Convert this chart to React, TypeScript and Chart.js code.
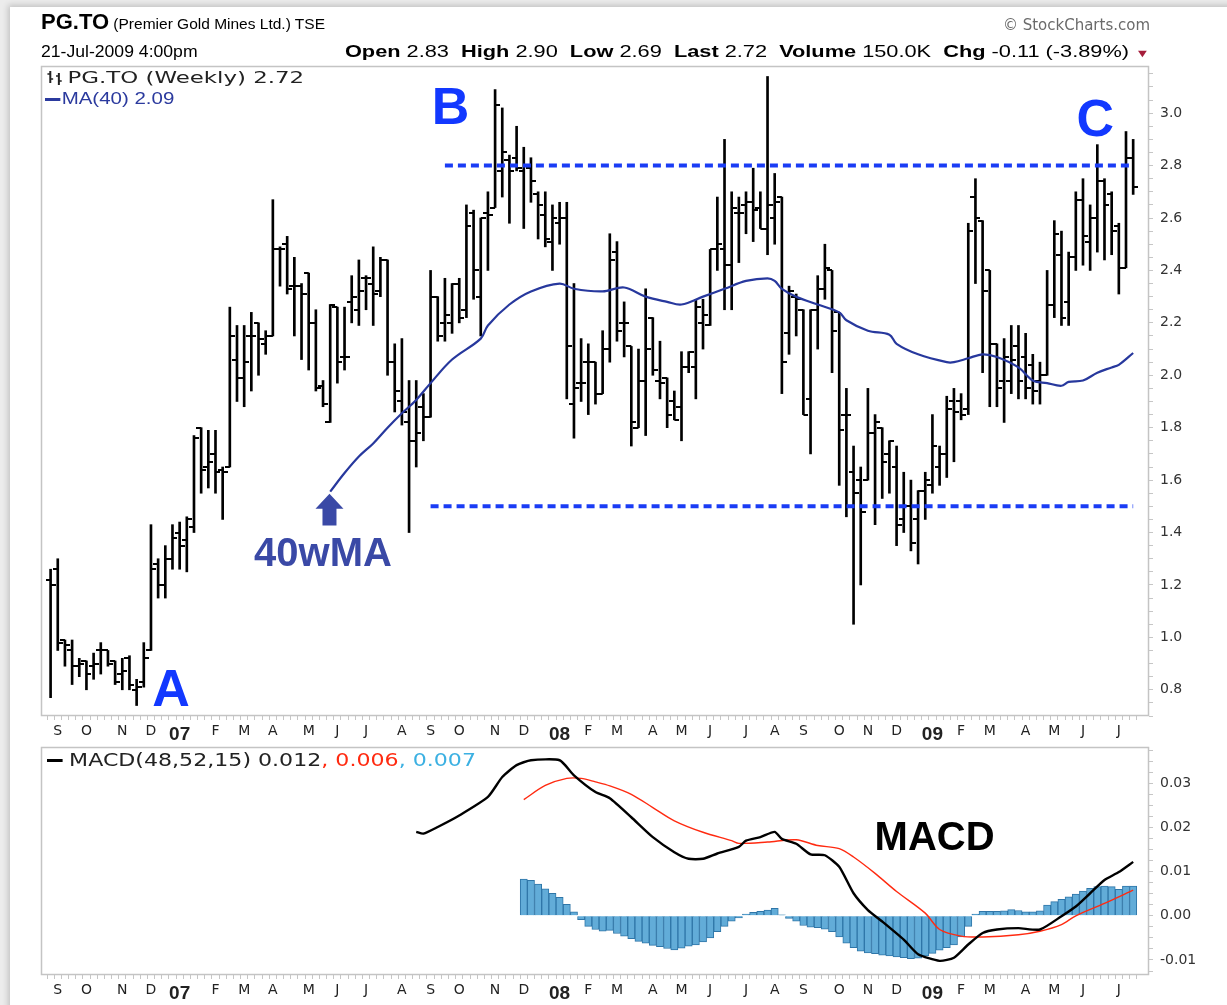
import React, { useEffect, useRef } from "react";
import { Chart, registerables } from "chart.js";

Chart.register(...registerables);

// ---------------- Data (weekly bars, week 0 = week of 28-Aug-2006) ----------------
const opens = [
  1.22, 1.26, 0.99, 0.95, 0.89, 0.91, 0.89, 0.95, 0.95, 0.91, 0.86, 0.92, 0.80, 0.83, 0.95, 1.28, 1.20, 1.30, 1.40, 1.37,
  1.42, 1.80, 1.65, 1.70, 1.64, 1.65, 2.06, 1.99, 2.15, 2.20, 2.12, 2.15, 2.48, 2.50, 2.34, 2.34, 2.39, 2.20, 1.96, 1.82,
  2.26, 2.07, 2.28, 2.25, 2.37, 2.35, 2.32, 2.44, 2.05, 1.90, 1.82, 1.75, 1.88, 1.84, 2.30, 2.20, 2.20, 2.35, 2.25, 2.62,
  2.30, 2.62, 2.64, 2.78, 2.82, 2.83, 2.78, 2.79, 2.69, 2.61, 2.51, 2.58, 2.60, 1.89, 1.97, 2.05, 2.05, 1.93, 2.10, 2.47,
  2.20, 2.11, 1.80, 1.98, 2.22, 1.98, 1.99, 1.90, 1.88, 2.03, 2.03, 2.20, 2.19, 2.48, 2.48, 2.42, 2.62, 2.65, 2.66, 2.64,
  2.56, 2.60, 2.68, 2.16, 2.30, 2.25, 1.91, 2.25, 2.33, 2.40, 2.24, 1.85, 1.63, 1.60, 1.60, 1.78, 1.80, 1.70, 1.65, 1.45,
  1.50, 1.45, 1.56, 1.58, 1.65, 1.70, 1.90, 1.90, 1.87, 2.68, 2.59, 2.40, 2.12, 1.98, 1.98, 2.11, 2.07, 2.04, 1.98, 2.00,
  2.27, 2.46, 2.28, 2.45, 2.67, 2.51, 2.60, 2.74, 2.69, 2.57, 2.41, 2.83,
];
const highs = [
  1.26, 1.30, 0.99, 0.99, 0.92, 0.91, 0.94, 0.98, 0.95, 0.91, 0.92, 0.93, 0.84, 0.98, 1.43, 1.30, 1.35, 1.43, 1.44, 1.46,
  1.77, 1.80, 1.79, 1.79, 1.65, 2.26, 2.19, 2.19, 2.24, 2.20, 2.17, 2.67, 2.49, 2.53, 2.45, 2.35, 2.39, 2.25, 1.98, 2.27,
  2.26, 2.26, 2.38, 2.44, 2.38, 2.49, 2.45, 2.44, 2.12, 2.14, 1.98, 1.98, 1.93, 2.40, 2.30, 2.37, 2.35, 2.37, 2.65, 2.63,
  2.60, 2.70, 3.09, 3.02, 2.84, 2.95, 2.87, 2.83, 2.70, 2.70, 2.65, 2.66, 2.66, 2.35, 2.14, 2.12, 2.05, 2.17, 2.54, 2.51,
  2.28, 2.11, 2.10, 2.33, 2.22, 2.13, 1.99, 1.94, 2.09, 2.09, 2.29, 2.29, 2.48, 2.68, 2.90, 2.70, 2.68, 2.70, 2.79, 2.70,
  3.14, 2.77, 2.68, 2.34, 2.31, 2.25, 2.25, 2.38, 2.50, 2.40, 2.24, 1.95, 1.73, 1.65, 1.95, 1.85, 1.80, 1.75, 1.73, 1.63,
  1.60, 1.56, 1.63, 1.85, 1.73, 1.92, 1.95, 1.93, 2.58, 2.75, 2.59, 2.40, 2.12, 2.14, 2.19, 2.19, 2.16, 2.08, 2.05, 2.40,
  2.59, 2.55, 2.47, 2.70, 2.75, 2.65, 2.88, 2.75, 2.70, 2.58, 2.93, 2.90,
];
const lows = [
  0.77, 0.95, 0.89, 0.82, 0.85, 0.80, 0.84, 0.86, 0.89, 0.82, 0.80, 0.80, 0.74, 0.81, 0.95, 1.15, 1.15, 1.26, 1.26, 1.25,
  1.40, 1.55, 1.57, 1.55, 1.45, 1.65, 1.90, 1.88, 1.94, 2.00, 2.08, 2.15, 2.34, 2.31, 2.15, 2.06, 2.02, 1.94, 1.88, 1.82,
  1.97, 2.02, 2.20, 2.19, 2.25, 2.19, 2.30, 2.00, 1.86, 1.81, 1.40, 1.65, 1.75, 1.84, 2.13, 2.13, 2.16, 2.20, 2.22, 2.29,
  2.15, 2.40, 2.64, 2.68, 2.58, 2.78, 2.56, 2.66, 2.52, 2.49, 2.40, 2.50, 1.91, 1.76, 1.90, 1.85, 1.89, 1.93, 2.05, 2.13,
  2.07, 1.73, 1.80, 1.77, 2.00, 1.91, 1.80, 1.83, 1.75, 2.01, 1.91, 2.10, 2.19, 2.40, 2.25, 2.25, 2.43, 2.54, 2.51, 2.56,
  2.46, 2.50, 1.93, 2.08, 2.15, 1.85, 1.70, 2.10, 2.29, 2.01, 1.58, 1.46, 1.05, 1.20, 1.60, 1.43, 1.53, 1.55, 1.35, 1.40,
  1.33, 1.28, 1.45, 1.55, 1.58, 1.61, 1.67, 1.83, 1.85, 2.35, 2.01, 1.88, 1.88, 1.82, 1.93, 1.91, 1.91, 1.89, 1.89, 2.00,
  2.22, 2.19, 2.19, 2.40, 2.42, 2.40, 2.47, 2.44, 2.46, 2.31, 2.41, 2.69,
];
const closes = [
  1.20, 0.98, 0.97, 0.89, 0.90, 0.86, 0.90, 0.95, 0.90, 0.83, 0.87, 0.82, 0.81, 0.92, 1.26, 1.20, 1.30, 1.38, 1.35, 1.45,
  1.76, 1.64, 1.67, 1.63, 1.63, 2.15, 1.99, 2.05, 2.15, 2.14, 2.15, 2.48, 2.48, 2.33, 2.34, 2.31, 2.20, 1.95, 1.89, 2.27,
  2.05, 2.07, 2.30, 2.32, 2.37, 2.31, 2.44, 2.05, 1.94, 1.86, 1.75, 1.78, 1.84, 2.30, 2.15, 2.23, 2.35, 2.22, 2.57, 2.40,
  2.60, 2.61, 3.03, 2.85, 2.78, 2.79, 2.80, 2.74, 2.65, 2.52, 2.60, 2.60, 2.11, 1.95, 1.97, 2.05, 1.93, 2.10, 2.44, 2.17,
  2.20, 1.82, 1.98, 2.10, 2.02, 1.97, 1.85, 1.83, 2.03, 2.09, 2.26, 2.23, 2.48, 2.50, 2.42, 2.64, 2.62, 2.66, 2.63, 2.56,
  2.65, 2.66, 2.05, 2.32, 2.29, 1.85, 2.25, 2.33, 2.41, 2.17, 1.79, 1.85, 1.55, 1.48, 1.78, 1.82, 1.67, 1.75, 1.43, 1.50,
  1.36, 1.56, 1.60, 1.73, 1.70, 1.87, 1.86, 1.85, 2.55, 2.60, 2.32, 2.12, 1.95, 2.07, 2.06, 1.98, 1.95, 1.94, 2.00, 2.27,
  2.54, 2.22, 2.45, 2.67, 2.53, 2.60, 2.74, 2.65, 2.55, 2.41, 2.83, 2.72,
];

// 40-week moving average at these weeks
const maWeeks = [39, 41, 43, 45, 47, 49, 51, 53, 56, 60, 61, 64, 67, 71, 73, 77, 80, 83, 86, 88, 91, 94, 97, 100, 101, 102, 104, 107, 110, 111, 114, 117, 118, 121, 125, 126, 128, 130, 132, 135, 137, 139, 141, 142, 144, 146, 148, 149, 151];
const maValues = [1.556, 1.627, 1.69, 1.74, 1.8, 1.855, 1.906, 1.97, 2.06, 2.14, 2.19, 2.27, 2.32, 2.35, 2.33, 2.32, 2.335, 2.3, 2.28, 2.27, 2.3, 2.33, 2.36, 2.37, 2.36, 2.33, 2.3, 2.27, 2.24, 2.21, 2.17, 2.155, 2.12, 2.08, 2.05, 2.05, 2.065, 2.08, 2.07, 2.03, 1.98, 1.97, 1.96, 1.975, 1.98, 2.01, 2.03, 2.04, 2.085];

// Horizontal guide levels
const resistanceLevel = 2.8;
const resistanceWeeks = [55, 151];
const supportLevel = 1.5;
const supportWeeks = [53, 151];

// MACD(48,52,15)
const macdWeeks = [51, 52, 54, 57, 61, 63, 65, 67, 71, 73, 76, 78, 81, 84, 87, 89, 91, 93, 96, 97, 99, 101, 102, 104, 106, 108, 110, 112, 114, 116, 119, 121, 124, 126, 128, 130, 132, 135, 138, 141, 143, 145, 147, 149, 151];
const macdValues = [0.019, 0.0186, 0.0201, 0.0227, 0.0269, 0.0314, 0.0341, 0.0352, 0.0352, 0.0318, 0.028, 0.0266, 0.0223, 0.0178, 0.0144, 0.0129, 0.0129, 0.0141, 0.0156, 0.017, 0.0178, 0.019, 0.0174, 0.0163, 0.0139, 0.0137, 0.0111, 0.0051, 0.0013, -0.0013, -0.0054, -0.0087, -0.0102, -0.0095, -0.0065, -0.0039, -0.0031, -0.0028, -0.0031, -0.0001, 0.0021, 0.0051, 0.0081, 0.0099, 0.0122];
const signalWeeks = [66, 69, 72, 74, 76, 78, 81, 84, 87, 91, 95, 96, 100, 104, 107, 110, 112, 115, 118, 122, 124, 127, 130, 135, 138, 141, 143, 147, 151];
const signalValues = [0.0263, 0.0295, 0.0311, 0.0311, 0.0303, 0.0294, 0.0275, 0.0245, 0.0215, 0.0189, 0.017, 0.0164, 0.0167, 0.0172, 0.0159, 0.0152, 0.0133, 0.0096, 0.0055, 0.0006, -0.0031, -0.0046, -0.0048, -0.0043, -0.0035, -0.002, 0.0, 0.0028, 0.0058];
const histFirstWeek = 66;
const histValues = [
  0.0083, 0.008, 0.0072, 0.0061, 0.0051, 0.0042, 0.0026, 0.0009, -0.0009, -0.0024, -0.0031, -0.0035, -0.0033, -0.004, -0.0046, -0.0052,
  -0.0058, -0.0062, -0.0067, -0.007, -0.0074, -0.0077, -0.0073, -0.0069, -0.0066, -0.0059, -0.005, -0.0036, -0.0024, -0.0012, -0.0005,
  0.0004, 0.0008, 0.001, 0.0013, 0.0017, 0.0002, -0.0006, -0.0012, -0.0022, -0.0026, -0.0027, -0.003, -0.0036, -0.0048, -0.0062,
  -0.0072, -0.008, -0.0084, -0.0086, -0.0089, -0.0091, -0.0093, -0.0095, -0.0097, -0.0096, -0.0091, -0.0085, -0.0078, -0.0072,
  -0.0066, -0.0048, -0.0024, 0.0004, 0.001, 0.001, 0.001, 0.0011, 0.0014, 0.0012, 0.0009, 0.0009, 0.0011, 0.0024, 0.0032, 0.0037,
  0.0043, 0.0049, 0.0056, 0.0062, 0.0066, 0.0067, 0.0066, 0.006, 0.0067, 0.0067,
];

// Axis labels
const monthTickWeeks = [1, 5, 10, 14, 18, 23, 27, 31, 36, 40, 44, 49, 53, 57, 62, 66, 71, 75, 79, 84, 88, 92, 97, 101, 105, 110, 114, 118, 123, 127, 131, 136, 140, 144, 149];
const monthTickLabels = ["S", "O", "N", "D", "07", "F", "M", "A", "M", "J", "J", "A", "S", "O", "N", "D", "08", "F", "M", "A", "M", "J", "J", "A", "S", "O", "N", "D", "09", "F", "M", "A", "M", "J", "J"];
const priceTickLabels = [0.8, 1.0, 1.2, 1.4, 1.6, 1.8, 2.0, 2.2, 2.4, 2.6, 2.8, 3.0];
const macdTickLabels = [-0.01, 0.0, 0.01, 0.02, 0.03];

// ---------------- Helpers ----------------
const SANS = '"Liberation Sans", Arial, sans-serif';
const VERD = '"DejaVu Sans", Verdana, sans-serif';

function makeTick(side: "left" | "right") {
  const c = document.createElement("canvas");
  c.width = 10;
  c.height = 2;
  const g = c.getContext("2d")!;
  g.fillStyle = "#000";
  if (side === "left") g.fillRect(0, 0, 5, 2);
  else g.fillRect(5, 0, 5, 2);
  return c;
}

function monthLabelFor(v: number) {
  const r = Math.round(v);
  if (Math.abs(v - r) > 1e-6) return "";
  const k = monthTickWeeks.indexOf(r);
  return k >= 0 ? monthTickLabels[k] : "";
}

function xScale(axisHeight: number) {
  return {
    type: "linear" as const,
    min: -0.83,
    max: 152.7,
    afterBuildTicks: (s: any) => {
      s.ticks = opens.map((_, i) => ({ value: i }));
    },
    afterFit: (s: any) => {
      s.height = axisHeight;
      s.paddingLeft = 0;
      s.paddingRight = 0;
    },
    ticks: {
      autoSkip: false,
      maxRotation: 0,
      minRotation: 0,
      padding: 3,
      color: "#222",
      callback: (v: any) => monthLabelFor(Number(v)),
      font: (ctx: any) => {
        const lbl = ctx.tick && ctx.tick.label;
        if (typeof lbl === "string" && /^\d\d$/.test(lbl))
          return { family: '"Liberation Sans Narrow", "Liberation Sans", Arial', size: 19, weight: "bold" };
        return { family: VERD, size: 14 };
      },
    },
    grid: { drawOnChartArea: false, drawTicks: true, tickLength: 4, color: "#c6c6c6" },
    border: { display: false },
  };
}

function yScale(min: number, max: number, step: number, kFrom: number, kTo: number, labels: number[], digits: number) {
  return {
    type: "linear" as const,
    position: "right" as const,
    min,
    max,
    afterBuildTicks: (s: any) => {
      const t: any[] = [];
      for (let k = kFrom; k <= kTo; k++) t.push({ value: k * step });
      s.ticks = t;
    },
    afterFit: (s: any) => {
      s.width = 78;
      s.paddingTop = 0;
      s.paddingBottom = 0;
    },
    ticks: {
      autoSkip: false,
      padding: 7,
      color: "#333",
      font: { family: VERD, size: 14 },
      callback: (v: any) => {
        const n = Number(v);
        return labels.some((p) => Math.abs(p - n) < step / 100) ? n.toFixed(digits) : "";
      },
    },
    grid: { drawOnChartArea: false, drawTicks: true, tickLength: 4, color: "#c6c6c6" },
    border: { display: false },
  };
}

const framePlugin = {
  id: "frame",
  afterDraw(chart: any) {
    const { ctx, chartArea: a } = chart;
    ctx.save();
    ctx.strokeStyle = "#c4c4c4";
    ctx.lineWidth = 1.5;
    ctx.strokeRect(a.left + 0.5, a.top + 0.5, a.right - a.left - 1, a.bottom - a.top - 1);
    ctx.restore();
  },
};

const mainNotes = {
  id: "mainNotes",
  afterDatasetsDraw(chart: any) {
    const { ctx } = chart;
    const x = chart.scales.x;
    const y = chart.scales.y;
    ctx.save();
    ctx.textAlign = "center";
    ctx.textBaseline = "alphabetic";
    ctx.fillStyle = "#1238ff";
    ctx.font = `bold 52px ${SANS}`;
    ctx.fillText("A", x.getPixelForValue(16.8), y.getPixelForValue(0.738));
    ctx.fillText("B", x.getPixelForValue(55.8), y.getPixelForValue(2.958));
    ctx.fillText("C", x.getPixelForValue(145.7), y.getPixelForValue(2.912));
    ctx.fillStyle = "#3a49a6";
    ctx.font = `bold 40px ${SANS}`;
    ctx.fillText("40wMA", x.getPixelForValue(38), y.getPixelForValue(1.272));
    // arrow pointing at the start of the moving average
    const ax = x.getPixelForValue(38.9);
    const tip = y.getPixelForValue(1.548);
    const base = y.getPixelForValue(1.427);
    ctx.beginPath();
    ctx.moveTo(ax, tip);
    ctx.lineTo(ax + 14, tip + 15);
    ctx.lineTo(ax + 7, tip + 15);
    ctx.lineTo(ax + 7, base);
    ctx.lineTo(ax - 7, base);
    ctx.lineTo(ax - 7, tip + 15);
    ctx.lineTo(ax - 14, tip + 15);
    ctx.closePath();
    ctx.fill();
    ctx.restore();
  },
};

const macdNotes = {
  id: "macdNotes",
  afterDatasetsDraw(chart: any) {
    const { ctx } = chart;
    const x = chart.scales.x;
    const y = chart.scales.y;
    ctx.save();
    ctx.textAlign = "center";
    ctx.textBaseline = "alphabetic";
    ctx.fillStyle = "#000";
    ctx.font = `bold 40px ${SANS}`;
    ctx.fillText("MACD", x.getPixelForValue(123.3), y.getPixelForValue(0.0148));
    ctx.restore();
  },
};

export default function App() {
  const mainRef = useRef<HTMLCanvasElement>(null);
  const macdRef = useRef<HTMLCanvasElement>(null);

  useEffect(() => {
    const leftTick = makeTick("left");
    const rightTick = makeTick("right");

    const main = new Chart(mainRef.current!, {
      type: "line",
      data: {
        datasets: [
          {
            type: "line",
            data: resistanceWeeks.map((w) => ({ x: w, y: resistanceLevel })),
            borderColor: "#1a3cf5",
            borderWidth: 4,
            borderDash: [8, 5],
            pointRadius: 0,
            order: 0,
          } as any,
          {
            type: "line",
            data: supportWeeks.map((w) => ({ x: w, y: supportLevel })),
            borderColor: "#1a3cf5",
            borderWidth: 4,
            borderDash: [8, 5],
            pointRadius: 0,
            order: 0,
          },
          {
            type: "line",
            data: maWeeks.map((w, i) => ({ x: w, y: maValues[i] })),
            borderColor: "#27389d",
            borderWidth: 2.2,
            pointRadius: 0,
            tension: 0.35,
            order: 1,
          },
          {
            type: "scatter",
            data: opens.map((v, i) => ({ x: i, y: v })),
            pointStyle: leftTick as any,
            showLine: false,
            order: 2,
          },
          {
            type: "scatter",
            data: closes.map((v, i) => ({ x: i, y: v })),
            pointStyle: rightTick as any,
            showLine: false,
            order: 2,
          },
          {
            type: "bar",
            data: highs.map((h, i) => ({ x: i, y: [lows[i], h] })) as any,
            backgroundColor: "#000",
            barThickness: 2,
            order: 3,
          },
        ],
      },
      options: {
        animation: false,
        responsive: false,
        events: [],
        layout: { padding: { left: 41, top: 66, right: 0, bottom: 0 } },
        plugins: { legend: { display: false }, tooltip: { enabled: false } },
        scales: {
          x: xScale(29) as any,
          y: yScale(0.7, 3.18, 0.05, 14, 63, priceTickLabels, 1) as any,
        },
      },
      plugins: [framePlugin, mainNotes],
    });

    const macd = new Chart(macdRef.current!, {
      type: "line",
      data: {
        datasets: [
          {
            type: "line",
            data: macdWeeks.map((w, i) => ({ x: w, y: macdValues[i] })),
            borderColor: "#000",
            borderWidth: 2.4,
            pointRadius: 0,
            tension: 0.2,
            order: 0,
          },
          {
            type: "line",
            data: signalWeeks.map((w, i) => ({ x: w, y: signalValues[i] })),
            borderColor: "#ff2a10",
            borderWidth: 1.4,
            pointRadius: 0,
            tension: 0.3,
            order: 1,
          },
          {
            type: "bar",
            data: histValues.map((v, i) => ({ x: histFirstWeek + i, y: v })),
            backgroundColor: "#62acd8",
            borderColor: "#2f76a8",
            borderWidth: 1,
            barPercentage: 1,
            categoryPercentage: 1,
            order: 2,
          } as any,
        ],
      },
      options: {
        animation: false,
        responsive: false,
        events: [],
        layout: { padding: { left: 41, top: 7, right: 0, bottom: 0 } },
        plugins: { legend: { display: false }, tooltip: { enabled: false } },
        scales: {
          x: xScale(30) as any,
          y: yScale(-0.0134, 0.0382, 0.0025, -5, 15, macdTickLabels, 2) as any,
        },
      },
      plugins: [framePlugin, macdNotes],
    });

    return () => {
      main.destroy();
      macd.destroy();
    };
  }, []);

  const stretch = (k: number, origin: string) => ({ transform: `scaleX(${k})`, transformOrigin: origin });

  return (
    <div
      style={{
        position: "absolute",
        left: 0,
        top: 0,
        width: 1227,
        height: 1005,
        background: "#ececec",
        overflow: "hidden",
        fontFamily: SANS,
        color: "#000",
      }}
    >
      <div
        style={{
          position: "absolute",
          left: 10,
          top: 7,
          width: 1240,
          height: 1020,
          background: "#fff",
          boxShadow: "-2px -2px 6px rgba(0,0,0,0.18)",
        }}
      />
      <canvas ref={mainRef} width={1227} height={745} style={{ position: "absolute", left: 0, top: 0, width: 1227, height: 745 }} />
      <canvas ref={macdRef} width={1227} height={265} style={{ position: "absolute", left: 0, top: 740, width: 1227, height: 265 }} />

      {/* Header */}
      <div style={{ position: "absolute", left: 41, top: 9, whiteSpace: "nowrap", lineHeight: "26px" }}>
        <span style={{ fontSize: 22, fontWeight: 700 }}>PG.TO</span>
        <span style={{ fontSize: 15.5 }}> (Premier Gold Mines Ltd.) TSE</span>
      </div>
      <div style={{ position: "absolute", right: 77, top: 16, whiteSpace: "nowrap", fontFamily: VERD, fontSize: 15, color: "#6a6a6a" }}>
        © StockCharts.com
      </div>
      <div style={{ position: "absolute", left: 41, top: 43, whiteSpace: "nowrap", fontSize: 16, ...stretch(1.1, "left center") }}>
        21-Jul-2009 4:00pm
      </div>
      <div style={{ position: "absolute", right: 77, top: 43, whiteSpace: "nowrap", fontSize: 16, ...stretch(1.36, "right center") }}>
        <b>Open</b> 2.83&nbsp;&nbsp;<b>High</b> 2.90&nbsp;&nbsp;<b>Low</b> 2.69&nbsp;&nbsp;<b>Last</b> 2.72&nbsp;&nbsp;<b>Volume</b> 150.0K&nbsp;&nbsp;
        <b>Chg</b> -0.11 (-3.89%) <span style={{ color: "#a51d3b", fontSize: 11 }}>▼</span>
      </div>

      {/* Price panel legend */}
      <div style={{ position: "absolute", left: 46, top: 68, whiteSpace: "nowrap", fontFamily: VERD, fontSize: 16, color: "#222", display: "flex", alignItems: "center", ...stretch(1.43, "left center") }}>
        <svg width="12" height="16" style={{ marginRight: 3 }}>
          <path d="M3 1 V13 M1 4 H3 M3 9 H5 M9 3 V15 M7 6 H9 M9 11 H11" stroke="#222" strokeWidth="1.4" fill="none" />
        </svg>
        PG.TO (Weekly) 2.72
      </div>
      <div style={{ position: "absolute", left: 45, top: 90, whiteSpace: "nowrap", fontFamily: '"Liberation Sans Narrow", "Liberation Sans", Arial', fontSize: 16, color: "#2b3a9e", display: "flex", alignItems: "center", ...stretch(1.28, "left center") }}>
        <span style={{ display: "inline-block", width: 12, height: 3, background: "#2b3a9e", marginRight: 1 }} />
        MA(40) 2.09
      </div>

      {/* MACD panel legend */}
      <div style={{ position: "absolute", left: 47, top: 750, whiteSpace: "nowrap", fontFamily: VERD, fontSize: 17, color: "#222", display: "flex", alignItems: "center", ...stretch(1.3, "left center") }}>
        <span style={{ display: "inline-block", width: 12, height: 3, background: "#000", marginRight: 5 }} />
        MACD(48,52,15) 0.012<span style={{ color: "#ff2a10" }}>, 0.006</span>
        <span style={{ color: "#3bb0e2" }}>, 0.007</span>
      </div>
    </div>
  );
}
